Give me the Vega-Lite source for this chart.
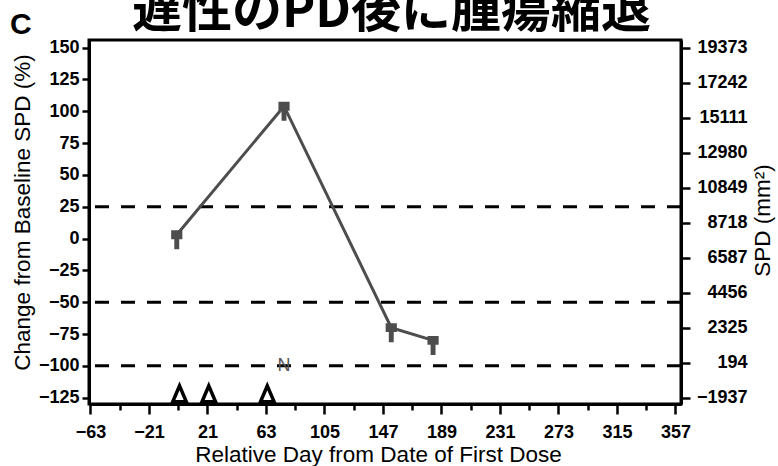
{
  "$schema": "https://vega.github.io/schema/vega-lite/v6.json",
  "width": 592,
  "height": 364,
  "autosize": {"type": "none"},
  "padding": {"left": 89, "top": 40, "right": 97, "bottom": 62},
  "background": "white",
  "config": {
    "view": {"stroke": "black", "strokeWidth": 3},
    "font": "Liberation Sans",
    "axis": {
      "domainColor": "black",
      "domainWidth": 3,
      "tickColor": "black",
      "tickWidth": 2.5,
      "tickSize": 7,
      "labelFont": "Liberation Sans",
      "labelFontSize": 18,
      "labelFontWeight": "bold",
      "labelColor": "black",
      "labelPadding": 3,
      "titleFont": "Liberation Sans",
      "titleFontSize": 22.5,
      "titleFontWeight": "normal",
      "titleColor": "black",
      "titleAlign": "center",
      "titleBaseline": "middle",
      "grid": false
    }
  },
  "title": {
    "text": "C",
    "anchor": "start",
    "frame": "group",
    "font": "Liberation Sans",
    "fontSize": 30,
    "fontWeight": "bold",
    "color": "black",
    "baseline": "alphabetic",
    "dx": -79,
    "dy": 82
  },
  "datasets": {
    "series": [
      {"day": -1, "pct": 3, "spd": 7982},
      {"day": 76, "pct": 104, "spd": 15808},
      {"day": 153, "pct": -70, "spd": 2325},
      {"day": 183, "pct": -80, "spd": 1550}
    ],
    "thresholds": [
      {"pct": 25},
      {"pct": -50},
      {"pct": -100}
    ],
    "doses": [
      {"day": 1, "pct": -122},
      {"day": 22, "pct": -122},
      {"day": 64, "pct": -122}
    ],
    "notes": [
      {"day": 76, "pct": -100, "label": "N"}
    ]
  },
  "layer": [
    {
      "data": {"name": "thresholds"},
      "mark": {"type": "rule", "color": "black", "strokeWidth": 3, "strokeDash": [14, 12]},
      "encoding": {
        "y": {"field": "pct", "type": "quantitative", "scale": {"domain": [-130, 156]}, "axis": null}
      }
    },
    {
      "data": {"name": "series"},
      "mark": {"type": "line", "color": "#4d4d4d", "strokeWidth": 3},
      "encoding": {
        "x": {
          "field": "day", "type": "quantitative",
          "scale": {"domain": [-64, 361], "nice": false, "zero": false},
          "axis": {
            "title": "Relative Day from Date of First Dose",
            "values": [-63, -21, 21, 63, 105, 147, 189, 231, 273, 315, 357],
            "tickSize": 10,
            "labelPadding": 9,
            "titleX": 289,
            "titleY": 50
          }
        },
        "y": {
          "field": "pct", "type": "quantitative",
          "scale": {"domain": [-130, 156], "nice": false, "zero": false},
          "axis": {
            "title": "Change from Baseline SPD (%)",
            "values": [-125, -100, -75, -50, -25, 0, 25, 50, 75, 100, 125, 150],
            "titleAngle": 270,
            "titleX": -67,
            "titleY": 172
          }
        }
      }
    },
    {
      "data": {"name": "series"},
      "mark": {
        "type": "point",
        "shape": "M-0.5,-0.4H0.5V0.4H0.22V1.3H-0.22V0.4H-0.5Z",
        "filled": true,
        "opacity": 1,
        "color": "#4d4d4d",
        "size": 500
      },
      "encoding": {
        "x": {"field": "day", "type": "quantitative", "scale": {"domain": [-64, 361], "nice": false, "zero": false}, "axis": null},
        "y": {"field": "pct", "type": "quantitative", "scale": {"domain": [-130, 156], "nice": false, "zero": false}, "axis": null}
      }
    },
    {
      "data": {"name": "doses"},
      "mark": {
        "type": "point",
        "shape": "M0,-1L0.85,1L-0.85,1Z",
        "filled": true,
        "fill": "white",
        "stroke": "black",
        "strokeWidth": 3.5,
        "opacity": 1,
        "size": 256
      },
      "encoding": {
        "x": {
          "field": "day", "type": "quantitative",
          "scale": {"domain": [-64, 361], "nice": false, "zero": false},
          "axis": {
            "orient": "top",
            "labels": false,
            "ticks": false,
            "domain": false,
            "title": "遅性のPD後に腫瘍縮退",
            "titleFont": "Noto Sans CJK JP",
            "titleFontSize": 50,
            "titleFontWeight": "bold",
            "titleAlign": "center",
            "titleBaseline": "alphabetic",
            "titleX": 302,
            "titleY": -14
          }
        },
        "y": {"field": "pct", "type": "quantitative", "scale": {"domain": [-130, 156], "nice": false, "zero": false}, "axis": null}
      }
    },
    {
      "data": {"name": "notes"},
      "mark": {"type": "text", "color": "#555555", "fontSize": 18, "font": "Liberation Sans", "align": "center", "baseline": "middle"},
      "encoding": {
        "x": {
          "field": "day", "type": "quantitative",
          "scale": {"domain": [-64, 361], "nice": false, "zero": false},
          "axis": {
            "orient": "bottom",
            "values": [-42, 0, 42, 84, 126, 168, 210, 252, 294, 336],
            "labels": false,
            "domain": false,
            "title": null,
            "tickSize": 6
          }
        },
        "y": {"field": "pct", "type": "quantitative", "scale": {"domain": [-130, 156], "nice": false, "zero": false}, "axis": null},
        "text": {"field": "label"}
      }
    },
    {
      "data": {"name": "series"},
      "mark": {"type": "point", "opacity": 0},
      "encoding": {
        "x": {"field": "day", "type": "quantitative", "scale": {"domain": [-64, 361], "nice": false, "zero": false}, "axis": null},
        "y": {
          "field": "spd", "type": "quantitative",
          "scale": {"domain": [-2324, 19838], "nice": false, "zero": false},
          "axis": {
            "orient": "right",
            "title": "SPD (mm²)",
            "values": [-1937, 194, 2325, 4456, 6587, 8718, 10849, 12980, 15111, 17242, 19373],
            "format": "d",
            "tickSize": 9,
            "labelAlign": "right",
            "labelPadding": 57,
            "titleAngle": 270,
            "titleX": 81,
            "titleY": 180
          }
        }
      }
    }
  ],
  "resolve": {"scale": {"y": "independent"}, "axis": {"x": "independent", "y": "independent"}}
}
